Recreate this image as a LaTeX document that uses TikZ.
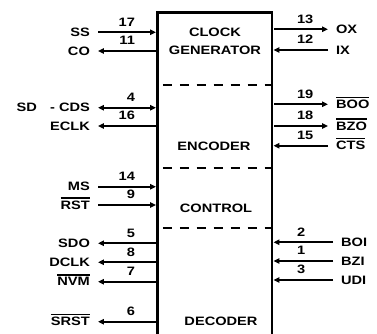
\documentclass[tikz,border=0pt]{standalone}
\usepackage{fontspec}
\setmainfont{Liberation Sans}[FakeStretch=1.2]
\usetikzlibrary{arrows.meta}
\newcommand{\barred}[1]{\vbox{\hrule height 1.1pt\kern 1.7pt\hbox{#1}}}
\tikzset{
  lbl/.style={inner xsep=6pt,inner ysep=0pt,text height=0.72em,text depth=0pt},
  num/.style={inner sep=0pt},
  into/.style={->},
  outof/.style={<-},
  bidir/.style={<->},
  sect/.style={align=center},
  divider/.style={line width=2pt,dash pattern=on 8pt off 6.5pt,dash phase=10pt}
}
\begin{document}
\begin{tikzpicture}[x=0.3mm,y=-0.3mm,>={Triangle[length=5pt,width=4.5pt]},line width=1.8pt,
  every node/.style={font=\bfseries\fontsize{10.4}{15.5}\selectfont}]
  \useasboundingbox (0,0) rectangle (377,334);
  \coordinate (bl) at (157.5,340);
  \coordinate (tl) at (157.5,12.7);
  \coordinate (tr) at (272,12.7);
  \coordinate (br) at (272,340);
  \draw[line width=2.5pt] (bl) -- (tl) -- (tr) -- (br);
  \foreach \y/\n in {85/a,167.7/b,227.7/c} {
    \coordinate (dl\n) at (157.5,\y);
    \coordinate (dr\n) at (272,\y);
    \draw[divider] (dl\n) -- (dr\n);
  }
  \node[sect] (clkgen) at (215,41.6) {CLOCK\\GENERATOR};
  \node (encoder) at (214,146.7) {ENCODER};
  \node (control) at (216,208) {CONTROL};
  \node (decoder) at (221,321.7) {DECODER};
  \foreach \y/\num/\lab/\kind in {32.3/17/SS/into,51/11/CO/outof,107.7/4/{SD\hspace{0.75em} - CDS}/bidir,
      126/16/ECLK/outof,186.7/14/MS/into,205/9/\barred{RST}/into,243.3/5/SDO/outof,
      262.3/8/DCLK/outof,281.7/7/\barred{NVM}/outof,321.7/6/\barred{SRST}/outof} {
    \coordinate (e\num) at (156,\y);
    \node[lbl,anchor=east] (p\num) at (98,\y) {\lab};
    \node[num,anchor=south east] (n\num) at (136,\y-5) {\num};
    \draw[\kind] (p\num) -- (e\num);
  }
  \foreach \y/\num/\lab/\kind/\xo in {29.3/13/OX/outof/328,50/12/IX/into/328,
      104.3/19/\barred{BOO}/outof/328,126/18/\barred{BZO}/outof/328,145.7/15/\barred{CTS}/into/328,
      242.3/2/BOI/into/333,261/1/BZI/into/333,280/3/UDI/into/333} {
    \coordinate (e\num) at (273.5,\y);
    \node[lbl,anchor=west] (p\num) at (\xo,\y) {\lab};
    \node[num,anchor=south west] (n\num) at (296,\y-5) {\num};
    \draw[\kind] (p\num) -- (e\num);
  }
\end{tikzpicture}
\end{document}
